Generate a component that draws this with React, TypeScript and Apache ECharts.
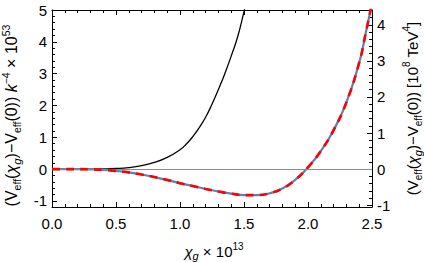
import React, { useEffect, useRef } from "react";
import * as echarts from "echarts";

// Black curve (left axis, units of k^-4 x 10^53)
const blackX = [0, 0.1, 0.2, 0.3, 0.4, 0.5, 0.6, 0.7, 0.8, 0.9, 1.0, 1.05, 1.1, 1.15, 1.2, 1.25, 1.3, 1.35, 1.4, 1.45, 1.5, 1.52];
const blackY = [0, 0, 0, 0.002, 0.007, 0.02, 0.05, 0.11, 0.21, 0.37, 0.61, 0.79, 1.02, 1.3, 1.63, 2.04, 2.5, 3.0, 3.55, 4.15, 4.95, 5.3];

// Blue / red dashed curve (right axis, units of 10^8 TeV^4)
const potX = [0, 0.1, 0.2, 0.3, 0.4, 0.5, 0.6, 0.7, 0.8, 0.9, 1.0, 1.1, 1.2, 1.3, 1.4, 1.5, 1.6, 1.7, 1.8, 1.9, 2.0, 2.1, 2.2, 2.3, 2.4, 2.45, 2.5];
const potY = [0, 0, 0, -0.005, -0.02, -0.05, -0.09, -0.15, -0.22, -0.3, -0.39, -0.47, -0.55, -0.62, -0.68, -0.72, -0.72, -0.67, -0.54, -0.3, 0.05, 0.5, 1.08, 1.85, 2.95, 3.75, 4.6];

const xTicks = [0, 0.5, 1.0, 1.5, 2.0, 2.5];
const leftTicks = [-1, 0, 1, 2, 3, 4, 5];
const rightTicks = [-1, 0, 1, 2, 3, 4];

const LEFT_MIN = -1.19, LEFT_MAX = 5;
const RIGHT_MIN = -1.05, RIGHT_MAX = 4.41;

function minors(lo: number, hi: number, step: number, majors: number[]) {
  const out: number[] = [];
  for (let i = Math.ceil(lo / step - 1e-9); i * step <= hi + 1e-9; i++) {
    const v = Math.round(i * step * 1000) / 1000;
    if (!majors.some((m) => Math.abs(m - v) < 1e-6)) out.push(v);
  }
  return out;
}

const FONT = "Liberation Sans, Arial, Helvetica, sans-serif";

function makeRich(size: number, small: number, lh: number) {
  return {
    t: { fontSize: size, fontFamily: FONT, color: "#000", lineHeight: lh },
    it: { fontSize: size, fontFamily: FONT, color: "#000", fontStyle: "italic", lineHeight: lh },
    s: { fontSize: small, fontFamily: FONT, color: "#000", verticalAlign: "bottom" },
    si: { fontSize: small + 1, fontFamily: FONT, color: "#000", fontStyle: "italic", verticalAlign: "bottom" },
    p: { fontSize: small, fontFamily: FONT, color: "#000", verticalAlign: "top" },
  };
}

export default function App() {
  const ref = useRef<HTMLDivElement>(null);
  useEffect(() => {
    if (!ref.current) return;
    const chart = echarts.init(ref.current, null, { renderer: "svg" });
    const common = "{t|(V}{s|eff}{t|(}{it|χ}{si|g}{t|)−V}{s|eff}{t|(0))}";
    const axisLine = { show: true, onZero: false, lineStyle: { color: "#000", width: 1 } };
    const label = { fontSize: 15, fontFamily: FONT, color: "#000" };
    const option: any = {
      animation: false,
      grid: { left: 52, right: 52, top: 10, bottom: 55, outerBoundsMode: "none", containLabel: false },
      xAxis: [
        {
          type: "value", min: 0, max: 2.5, interval: 0.5, position: "bottom",
          axisLine, splitLine: { show: false },
          axisTick: { inside: true, length: 5, lineStyle: { color: "#000" } },
          minorTick: { show: true, splitNumber: 5, length: 3, lineStyle: { color: "#000" } },
          axisLabel: { ...label, margin: 9, formatter: (v: number) => v.toFixed(1), customValues: xTicks },
          name: "{it|χ}{si|g}{t| × 10}{p|13}",
          nameLocation: "middle", nameGap: 34,
          nameTextStyle: { rich: makeRich(15, 10, 20), padding: [0, 0, 0, 4] },
        },
        {
          type: "value", min: 0, max: 2.5, interval: 0.5, position: "top",
          axisLine, splitLine: { show: false },
          axisTick: { inside: true, length: 5, lineStyle: { color: "#000" } },
          minorTick: { show: true, splitNumber: 5, length: 3, lineStyle: { color: "#000" } },
          axisLabel: { show: false },
        },
      ],
      yAxis: [
        {
          type: "value", min: LEFT_MIN, max: LEFT_MAX, position: "left",
          axisLine, splitLine: { show: false },
          axisTick: { inside: true, length: 5, customValues: leftTicks, lineStyle: { color: "#000" } },
          axisLabel: { ...label, margin: 5, customValues: leftTicks },
          name: common + "{t| }{it|k}{p|−4}{t| × 10}{p|53}",
          nameLocation: "middle", nameRotate: 90, nameGap: 28,
          nameTextStyle: { rich: makeRich(16, 10.5, 22), padding: [0, 14, 0, 0] },
        },
        {
          type: "value", min: RIGHT_MIN, max: RIGHT_MAX, position: "right",
          axisLine, splitLine: { show: false },
          axisTick: { inside: true, length: 5, customValues: rightTicks, lineStyle: { color: "#000" } },
          axisLabel: { ...label, margin: 5, customValues: rightTicks },
          name: common + "{t| [10}{p|8}{t| TeV}{p|4}{t|]}",
          nameLocation: "middle", nameRotate: 90, nameGap: 27,
          nameTextStyle: { rich: makeRich(15, 10, 22) },
        },
        {
          type: "value", min: LEFT_MIN, max: LEFT_MAX, position: "left",
          axisLine: { show: false, onZero: false }, splitLine: { show: false },
          axisTick: { inside: true, length: 3, customValues: minors(LEFT_MIN, LEFT_MAX, 0.2, leftTicks), lineStyle: { color: "#000" } },
          axisLabel: { show: false },
        },
        {
          type: "value", min: RIGHT_MIN, max: RIGHT_MAX, position: "right",
          axisLine: { show: false, onZero: false }, splitLine: { show: false },
          axisTick: { inside: true, length: 3, customValues: minors(RIGHT_MIN, RIGHT_MAX, 0.2, rightTicks), lineStyle: { color: "#000" } },
          axisLabel: { show: false },
        },
      ],
      series: [
        {
          type: "line", xAxisIndex: 0, yAxisIndex: 0, smooth: true, showSymbol: false,
          data: blackX.map((x, i) => [x, blackY[i]]),
          lineStyle: { color: "#000", width: 1.3 },
          markLine: {
            silent: true, symbol: "none", label: { show: false },
            lineStyle: { color: "#8c8c8c", width: 1, type: "solid" },
            data: [{ yAxis: 0 }],
          },
          z: 3,
        },
        {
          type: "line", xAxisIndex: 0, yAxisIndex: 1, smooth: true, showSymbol: false,
          data: potX.map((x, i) => [x, potY[i]]),
          lineStyle: { color: "#5E81B5", width: 2.2 },
          z: 4,
        },
        {
          type: "line", xAxisIndex: 0, yAxisIndex: 1, smooth: true, showSymbol: false,
          data: potX.map((x, i) => [x, potY[i]]),
          lineStyle: { color: "#ff0000", width: 2.6, type: [8, 6] },
          z: 5,
        },
      ],
    };
    chart.setOption(option);
    return () => chart.dispose();
  }, []);
  return <div ref={ref} style={{ position: "fixed", left: 0, top: 0, width: 424, height: 262, background: "#fff" }} />;
}
